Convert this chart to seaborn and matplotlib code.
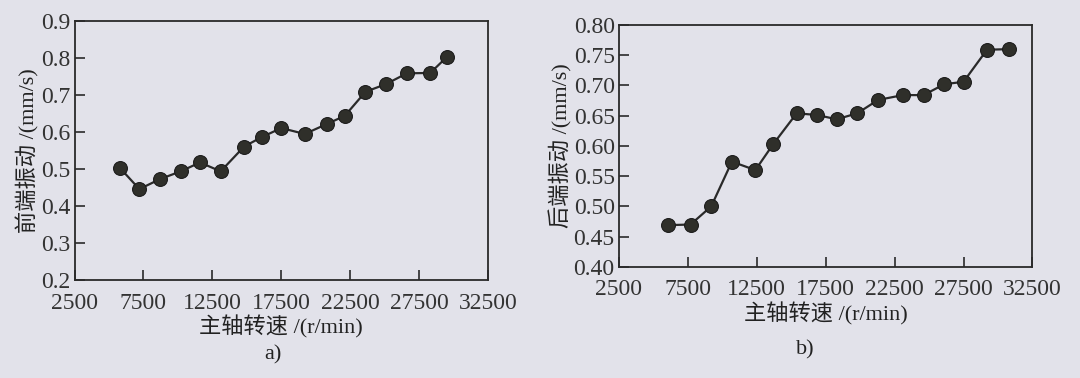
import matplotlib
matplotlib.use("Agg")
import matplotlib.pyplot as plt
import numpy as np
import pandas as pd
import seaborn as sns

# spindle speed (r/min) and vibration (mm/s)
speed_a = [5800, 7200, 8700, 10200, 11600, 13100, 14800, 16100, 17500,
           19200, 20800, 22100, 23600, 25100, 26600, 28300, 29500]
front = [0.503, 0.446, 0.473, 0.494, 0.518, 0.494, 0.561, 0.587, 0.611,
         0.595, 0.622, 0.644, 0.709, 0.730, 0.759, 0.760, 0.803]

speed_b = [6100, 7700, 9200, 10700, 12400, 13700, 15400, 16900, 18300,
           19800, 21300, 23100, 24600, 26100, 27500, 29200, 30800]
rear = [0.469, 0.470, 0.500, 0.574, 0.560, 0.603, 0.654, 0.651, 0.644,
        0.654, 0.676, 0.684, 0.684, 0.702, 0.706, 0.759, 0.760]

xticks = [2500, 7500, 12500, 17500, 22500, 27500, 32500]

sns.set_theme(style="ticks")
plt.rcParams['font.family'] = ['Liberation Serif', 'Noto Sans CJK SC']
plt.rcParams['axes.unicode_minus'] = False

bg = '#e2e2ea'
ink = '#2a2a2a'

fig = plt.figure(figsize=(10.8, 3.78), dpi=100, facecolor=bg)
ax0 = fig.add_axes([0.069, 0.259, 0.383, 0.685])
ax1 = fig.add_axes([0.573, 0.294, 0.383, 0.640])

df_a = pd.DataFrame({'speed': speed_a, 'vib': front})
df_b = pd.DataFrame({'speed': speed_b, 'vib': rear})


def draw(ax, df, ylabel, yticks, yfmt):
    ax.set_facecolor(bg)
    sns.lineplot(ax=ax, data=df, x='speed', y='vib', color=ink, lw=1.6,
                 marker='o', markersize=10, markerfacecolor='#2f2f2a',
                 markeredgecolor='#1a1a1a')
    ax.set_xlim(2500, 32500)
    ax.set_ylim(yticks[0], yticks[-1])
    ax.set_xticks(xticks)
    ax.set_yticks(yticks)
    ax.set_yticklabels([yfmt.format(v) for v in yticks])
    ax.tick_params(direction='in', length=7, width=1.2, colors=ink,
                   labelsize=17, labelcolor='#333333')
    ax.tick_params(axis='x', pad=9)
    ax.tick_params(axis='y', pad=3)
    for s in ax.spines.values():
        s.set_color(ink)
        s.set_linewidth(1.3)
    ax.set_xlabel('主轴转速 /(r/min)', fontsize=16, color='#222222', labelpad=1)
    ax.set_ylabel(ylabel, fontsize=16, color='#222222', labelpad=1)


draw(ax0, df_a, '前端振动 /(mm/s)', [0.2, 0.3, 0.4, 0.5, 0.6, 0.7, 0.8, 0.9], '{:.1f}')
draw(ax1, df_b, '后端振动 /(mm/s)', [0.40, 0.45, 0.50, 0.55, 0.60, 0.65, 0.70, 0.75, 0.80], '{:.2f}')

fig.text(0.253, 1 - 355 / 378, 'a)', ha='center', va='center', fontsize=16, color='#222222')
fig.text(0.746, 1 - 350 / 378, 'b)', ha='center', va='center', fontsize=16, color='#222222')

plt.savefig('out.png', dpi=100, facecolor=bg)
